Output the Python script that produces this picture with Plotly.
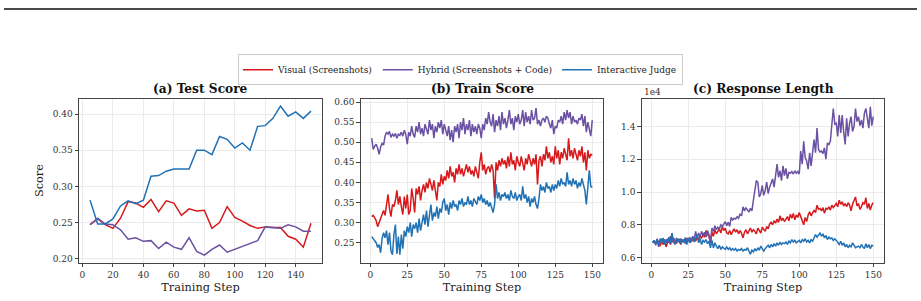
import plotly.graph_objects as go

# ---------------- data ----------------
test_steps = list(range(5, 151, 5))
test_visual = [0.247, 0.255, 0.247, 0.242, 0.256, 0.279, 0.277, 0.271, 0.282, 0.265,
               0.280, 0.277, 0.260, 0.269, 0.266, 0.267, 0.242, 0.250, 0.272, 0.257,
               0.252, 0.246, 0.242, 0.244, 0.243, 0.243, 0.231, 0.227, 0.216, 0.249]
test_hybrid = [0.247, 0.256, 0.248, 0.247, 0.240, 0.227, 0.229, 0.224, 0.225, 0.214,
               0.223, 0.216, 0.213, 0.229, 0.210, 0.205, 0.213, 0.219, 0.209, 0.213,
               0.216, 0.220, 0.225, 0.244, 0.243, 0.242, 0.247, 0.244, 0.238, 0.238]
test_interactive = [0.281, 0.248, 0.248, 0.255, 0.273, 0.280, 0.276, 0.281, 0.314, 0.315,
                    0.321, 0.324, 0.324, 0.324, 0.350, 0.350, 0.344, 0.369, 0.365, 0.353,
                    0.360, 0.350, 0.383, 0.384, 0.394, 0.411, 0.397, 0.403, 0.394, 0.404]

train_steps = list(range(1, 151))
train_hybrid = [
    0.510, 0.482, 0.490, 0.495, 0.485, 0.470, 0.488, 0.497, 0.493, 0.515,
    0.525, 0.520, 0.527, 0.512, 0.520, 0.515, 0.522, 0.510, 0.520, 0.517,
    0.525, 0.515, 0.530, 0.520, 0.495, 0.525, 0.515, 0.540, 0.520, 0.512,
    0.540, 0.525, 0.550, 0.520, 0.535, 0.515, 0.545, 0.530, 0.520, 0.555,
    0.530, 0.545, 0.510, 0.540, 0.525, 0.550, 0.535, 0.555, 0.520, 0.545,
    0.530, 0.515, 0.540, 0.505, 0.530, 0.500, 0.540, 0.525, 0.545, 0.510,
    0.550, 0.530, 0.560, 0.520, 0.545, 0.530, 0.555, 0.515, 0.545, 0.525,
    0.540, 0.520, 0.545, 0.535, 0.510, 0.545, 0.530, 0.560, 0.545, 0.575,
    0.550, 0.540, 0.570, 0.525, 0.555, 0.540, 0.565, 0.530, 0.575, 0.545,
    0.560, 0.535, 0.555, 0.580, 0.545, 0.560, 0.530, 0.565, 0.550, 0.570,
    0.545, 0.555, 0.580, 0.540, 0.575, 0.550, 0.565, 0.545, 0.580, 0.555,
    0.560, 0.585, 0.545, 0.555, 0.540, 0.555, 0.560, 0.550, 0.565, 0.560,
    0.545, 0.535, 0.555, 0.520, 0.540, 0.535, 0.555, 0.550, 0.565, 0.545,
    0.575, 0.555, 0.580, 0.560, 0.575, 0.545, 0.565, 0.550, 0.555, 0.545,
    0.560, 0.555, 0.570, 0.540, 0.565, 0.525, 0.550, 0.530, 0.515, 0.555]
train_visual = [
    0.315, 0.318, 0.312, 0.305, 0.290, 0.300, 0.310, 0.322, 0.330, 0.318,
    0.345, 0.370, 0.335, 0.315, 0.345, 0.340, 0.355, 0.380, 0.345, 0.365,
    0.340, 0.320, 0.365, 0.335, 0.370, 0.320, 0.330, 0.385, 0.360, 0.325,
    0.385, 0.370, 0.390, 0.355, 0.380, 0.395, 0.375, 0.400, 0.385, 0.410,
    0.395, 0.380, 0.405, 0.375, 0.355, 0.400, 0.390, 0.420, 0.395, 0.415,
    0.405, 0.430, 0.410, 0.440, 0.415, 0.425, 0.400, 0.435, 0.420, 0.445,
    0.420, 0.435, 0.415, 0.430, 0.445, 0.425, 0.440, 0.420, 0.430, 0.415,
    0.440, 0.425, 0.410, 0.450, 0.475, 0.430, 0.445, 0.420, 0.435, 0.440,
    0.425, 0.445, 0.430, 0.360, 0.450, 0.430, 0.455, 0.440, 0.460, 0.445,
    0.455, 0.435, 0.465, 0.440, 0.475, 0.445, 0.455, 0.430, 0.465, 0.450,
    0.440, 0.465, 0.450, 0.430, 0.460, 0.445, 0.470, 0.450, 0.440, 0.460,
    0.445, 0.470, 0.395, 0.455, 0.465, 0.440, 0.470, 0.455, 0.490, 0.460,
    0.475, 0.450, 0.465, 0.445, 0.490, 0.460, 0.480, 0.445, 0.475, 0.460,
    0.485, 0.470, 0.455, 0.510, 0.465, 0.480, 0.460, 0.485, 0.470, 0.455,
    0.480, 0.465, 0.490, 0.450, 0.475, 0.430, 0.480, 0.460, 0.470, 0.468]
train_interactive = [
    0.265, 0.258, 0.255, 0.250, 0.238, 0.245, 0.225, 0.260, 0.275, 0.262,
    0.280, 0.245, 0.275, 0.230, 0.220, 0.270, 0.295, 0.222, 0.265, 0.220,
    0.270, 0.235, 0.280, 0.265, 0.290, 0.275, 0.300, 0.265, 0.295, 0.285,
    0.300, 0.275, 0.310, 0.280, 0.300, 0.320, 0.295, 0.330, 0.290, 0.315,
    0.345, 0.305, 0.325, 0.315, 0.340, 0.310, 0.335, 0.325, 0.350, 0.360,
    0.330, 0.345, 0.320, 0.350, 0.335, 0.355, 0.340, 0.345, 0.330, 0.355,
    0.345, 0.360, 0.340, 0.350, 0.345, 0.365, 0.345, 0.355, 0.340, 0.360,
    0.350, 0.345, 0.365, 0.355, 0.370, 0.350, 0.360, 0.345, 0.355, 0.340,
    0.350, 0.335, 0.325, 0.345, 0.395, 0.360, 0.375, 0.355, 0.370, 0.365,
    0.375, 0.360, 0.370, 0.355, 0.380, 0.365, 0.360, 0.375, 0.355, 0.365,
    0.370, 0.355, 0.390, 0.360, 0.370, 0.350, 0.365, 0.340, 0.360, 0.350,
    0.365, 0.345, 0.335, 0.360, 0.395, 0.380, 0.390, 0.375, 0.400, 0.385,
    0.390, 0.375, 0.395, 0.380, 0.395, 0.385, 0.405, 0.390, 0.410, 0.395,
    0.400, 0.390, 0.425, 0.395, 0.405, 0.390, 0.410, 0.395, 0.405, 0.385,
    0.400, 0.390, 0.410, 0.395, 0.380, 0.345, 0.400, 0.430, 0.390, 0.388]

len_interactive = [
    6900, 7050, 6850, 7100, 6750, 7150, 6900, 7200, 6800, 7100,
    6950, 7250, 6850, 7500, 7000, 6800, 7200, 6950, 7150, 6850,
    7100, 6950, 7200, 6800, 7150, 6900, 7050, 7250, 6950, 7200,
    7400, 6900, 7150, 6800, 7050, 6950, 7100, 6850, 7000, 6600,
    7050, 6600, 6900, 6700, 6550, 6750, 6500, 6650, 6600, 6500,
    6650, 6500, 6600, 6450, 6550, 6450, 6550, 6400, 6500, 6450,
    6550, 6400, 6500, 6450, 6600, 6350, 6200, 6450, 6350, 6550,
    6400, 6600, 6450, 6700, 6500, 6400, 6550, 6650, 6750, 6600,
    6800, 6650, 6850, 6700, 6900, 6750, 6950, 6800, 6900, 6850,
    6950, 6800, 7000, 6900, 7100, 6950, 7050, 6900, 7000, 7050,
    6900, 7100, 7000, 7150, 6950, 7050, 6900, 7100, 7000, 7250,
    7400, 7250, 7350, 7500, 7300, 7450, 7200, 7350, 7100, 7250,
    7150, 7200, 7050, 7150, 7050, 6950, 6800, 7000, 6750, 6900,
    6650, 6800, 6600, 6750, 6650, 6900, 6700, 6600, 6650, 6700,
    6600, 6800, 6650, 6550, 6850, 6600, 6800, 6550, 6750, 6700]
len_visual = [
    6900, 7000, 6850, 7050, 6950, 6700, 7000, 6800, 7100, 6650,
    6900, 7050, 6800, 7200, 6900, 7000, 6850, 7150, 6950, 6800,
    7100, 6950, 7200, 7000, 7150, 6950, 7100, 7050, 7200, 7000,
    7250, 7100, 7300, 7200, 7400, 7250, 7650, 7400, 7300, 6900,
    7550, 7300, 7700, 7450, 7600, 7750, 7500, 7900, 7650, 7800,
    7500, 7450, 7650, 7400, 7600, 7750, 7550, 7700, 7450, 7650,
    7500, 7200, 7550, 7700, 7450, 7650, 7800, 7550, 7700, 7600,
    7450, 7800, 7650, 7500, 7850, 7700, 7600, 7900, 7750, 8050,
    8150, 8000, 8250, 8100, 8350, 8150, 8550, 8250, 8400, 8200,
    8350, 8500, 8250, 8650, 8400, 8700, 8300, 8600, 8450, 8750,
    8500, 8300, 8000, 8450, 8200, 8600, 8800, 8550, 8750, 8900,
    8750, 9200, 8950, 9000, 8850, 9050, 8700, 9000, 8950, 9100,
    8900, 9200, 9050, 9150, 9300, 9100, 9500, 9250, 9400, 9150,
    9300, 9100, 9350, 9200, 8850, 9250, 9450, 9700, 9150, 9300,
    8950, 9100, 9350, 9250, 9650, 9000, 9300, 8900, 9200, 9350]
len_hybrid = [
    6900, 7050, 6750, 7150, 6650, 7000, 7150, 6900, 7100, 6850,
    7150, 6900, 7300, 6950, 7200, 7050, 6900, 7100, 7000, 7150,
    6950, 7100, 6850, 7200, 7050, 7250, 6950, 7300, 7100, 7600,
    7150, 7500, 7250, 7600, 7350, 7550, 7250, 7650, 7400, 6900,
    7800, 7600, 7950, 7700, 7850, 7750, 8000, 7900, 8100, 8200,
    7950, 8150, 7900, 8450, 8300, 8400, 8350, 8500, 8400, 8650,
    8550, 9100, 8850, 9050, 8900, 8800, 9000, 8850, 9500, 10100,
    10700, 10600, 9700, 9900, 10400, 9800, 10100, 10600, 9900, 10300,
    10600, 10800, 10300, 11050, 11700, 10900, 11300, 10700, 11600, 11000,
    11450, 10800, 11200, 11150, 11250, 11100, 11300, 11150, 11250, 11100,
    12500, 11700, 13100, 12100, 11900, 11400, 12400, 11600, 12600, 13200,
    12400, 13900, 12600, 12450, 12500, 12350, 12700, 12000, 13000, 12900,
    13100, 14100, 15100, 14150, 14200, 13400, 14700, 13600, 14700, 13700,
    12900, 14500, 13400, 14200, 14600, 13700, 14000, 15100, 14300, 14600,
    14050, 14400, 13900, 14800, 15100, 14500, 13900, 15200, 14050, 14600]

series_names = ["Visual (Screenshots)", "Hybrid (Screenshots + Code)", "Interactive Judge"]
series_colors = ["#d7191c", "#6a51a3", "#2171b5"]
panel_titles = ["(a) Test Score", "(b) Train Score", "(c) Response Length"]
len_tickvals = [6000, 8000, 10000, 12000, 14000]
len_ticktext = ["0.6", "0.8", "1.0", "1.2", "1.4"]

# ---------------- figure ----------------
W, H = 921, 301
FONT = "DejaVu Serif"
fig = go.Figure()

panels = [
    (test_steps, [test_visual, test_hybrid, test_interactive], "x", "y"),
    (train_steps, [train_visual, train_hybrid, train_interactive], "x2", "y2"),
    (train_steps, [len_visual, len_hybrid, len_interactive], "x3", "y3"),
]
for pi, (xs, ys_list, xa, ya) in enumerate(panels):
    for si, ys in enumerate(ys_list):
        fig.add_trace(go.Scatter(
            x=xs, y=ys, mode="lines", name=series_names[si],
            line=dict(color=series_colors[si], width=1.5),
            xaxis=xa, yaxis=ya, showlegend=(pi == 0), legendgroup=series_names[si]))

# pixel layout
px_x = [(79, 322), (360.7, 603.3), (641.7, 884.3)]
top_px, bot_px = 98.3, 263.3
ydom = [(H - bot_px) / H, (H - top_px) / H]

axis_common = dict(showline=True, mirror=True, linecolor="#444444", linewidth=1,
                   ticks="outside", ticklen=3.5, tickwidth=0.8, tickcolor="#444444",
                   showgrid=True, gridcolor="#ebebeb", gridwidth=0.8, zeroline=False,
                   tickfont=dict(family=FONT, size=9, color="#333333"))

xranges = [[-2.25, 157.25], [-6.45, 157.45], [-6.45, 157.45]]
xticks = [list(range(0, 141, 20)), list(range(0, 151, 25)), list(range(0, 151, 25))]
yranges = [[0.1947, 0.4213], [0.2006, 0.6084], [5697, 15700]]

layout = dict(width=W, height=H, margin=dict(l=0, r=0, t=0, b=0),
              paper_bgcolor="white", plot_bgcolor="white",
              font=dict(family=FONT, size=9, color="#222222"))
for i in range(3):
    sfx = "" if i == 0 else str(i + 1)
    layout["xaxis" + sfx] = dict(axis_common, domain=[px_x[i][0] / W, px_x[i][1] / W],
                                 range=xranges[i], tickvals=xticks[i],
                                 anchor="y" + sfx,
                                 title=dict(text="Training Step", standoff=4,
                                            font=dict(family=FONT, size=11.3, color="#222222")))
    ya = dict(axis_common, domain=ydom, range=yranges[i], anchor="x" + sfx)
    if i == 0:
        ya.update(tickvals=[0.20, 0.25, 0.30, 0.35, 0.40], tickformat=".2f",
                  title=dict(text="Score", standoff=6,
                             font=dict(family=FONT, size=11.3, color="#222222")))
    elif i == 1:
        ya.update(tickvals=[0.25, 0.30, 0.35, 0.40, 0.45, 0.50, 0.55, 0.60], tickformat=".2f")
    else:
        ya.update(tickvals=len_tickvals, ticktext=len_ticktext)
    layout["yaxis" + sfx] = ya

fig.update_layout(**layout)

# subplot titles
for i in range(3):
    fig.add_annotation(text="<b>" + panel_titles[i] + "</b>", xref="paper", yref="paper",
                       x=(px_x[i][0] + px_x[i][1]) / 2 / W, y=(H - 88.5) / H,
                       xanchor="center", yanchor="middle", showarrow=False,
                       font=dict(family=FONT, size=12.2, color="#111111"))
# offset text
fig.add_annotation(text="1e4", xref="paper", yref="paper", x=642 / W, y=(H - 91.5) / H,
                   xanchor="left", yanchor="middle", showarrow=False,
                   font=dict(family=FONT, size=9, color="#333333"))
# page rule at top
fig.add_shape(type="line", xref="paper", yref="paper", x0=4 / W, x1=917 / W,
              y0=(H - 8) / H, y1=(H - 8) / H, line=dict(color="#4a4a4a", width=2))

fig.update_layout(legend=dict(orientation="h", x=0.5, xanchor="center",
                              y=(H - 69.3) / H, yanchor="middle",
                              bordercolor="#cccccc", borderwidth=1, bgcolor="white",
                              font=dict(family=FONT, size=9, color="#222222"),
                              itemwidth=30, tracegroupgap=0))

fig.write_html("out.html")
